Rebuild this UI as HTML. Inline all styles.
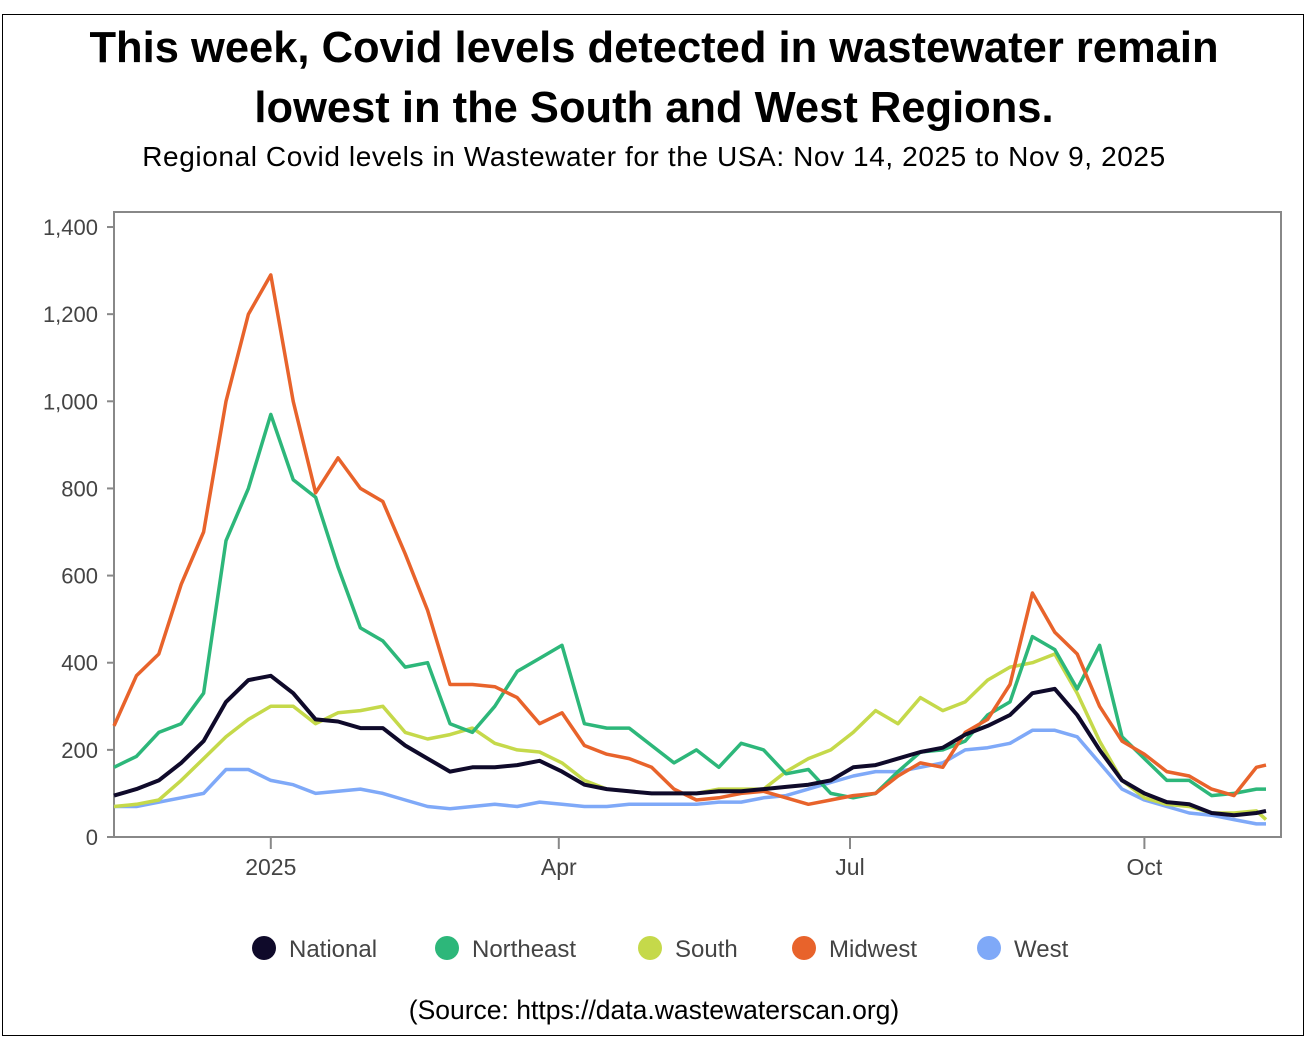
<!DOCTYPE html>
<html><head><meta charset="utf-8"><style>
body{margin:0;background:#fff;}
#wrap{position:relative;width:1308px;height:1047px;font-family:"Liberation Sans",sans-serif;}
#frame{position:absolute;left:2px;top:14px;width:1302px;height:1022px;border:1.5px solid #000;box-sizing:border-box;}
.t{position:absolute;left:0;width:1308px;text-align:center;color:#000;}
</style></head><body>
<div id="wrap">
<div id="frame"></div>
<div class="t" style="top:18px;font-size:43.5px;font-weight:bold;line-height:60px;">This week, Covid levels detected in wastewater remain<br>lowest in the South and West Regions.</div>
<div class="t" style="top:141px;font-size:28px;letter-spacing:0.6px;">Regional Covid levels in Wastewater for the USA: Nov 14, 2025 to Nov 9, 2025</div>
<svg id="chart" width="1308" height="1047" style="position:absolute;left:0;top:0"></svg>
<div class="t" style="top:995px;font-size:26.5px;">(Source: https://data.wastewaterscan.org)</div>
</div>
<script>
const days=[];for(let k=0;k<=51;k++)days.push(k*7);days.push(360);
const national=[95,110,130,170,220,310,360,370,330,270,265,250,250,210,180,150,160,160,165,175,150,120,110,105,100,100,100,105,105,110,115,120,130,160,165,180,195,205,235,255,280,330,340,280,200,130,100,80,75,55,50,55,60];
const northeast=[160,185,240,260,330,680,800,970,820,780,620,480,450,390,400,260,240,300,380,410,440,260,250,250,210,170,200,160,215,200,145,155,100,90,100,150,195,200,220,280,310,460,430,340,440,230,180,130,130,95,100,110,110];
const south=[70,75,85,130,180,230,270,300,300,260,285,290,300,240,225,235,250,215,200,195,170,130,110,105,100,100,100,110,110,110,150,180,200,240,290,260,320,290,310,360,390,400,420,330,220,130,90,75,70,55,55,60,40];
const midwest=[255,370,420,580,700,1000,1200,1290,1000,790,870,800,770,650,520,350,350,345,320,260,285,210,190,180,160,110,85,90,100,105,90,75,85,95,100,140,170,160,240,270,350,560,470,420,300,220,190,150,140,110,95,160,165];
const west=[70,70,80,90,100,155,155,130,120,100,105,110,100,85,70,65,70,75,70,80,75,70,70,75,75,75,75,80,80,90,95,110,125,140,150,150,160,170,200,205,215,245,245,230,170,110,85,70,55,50,40,30,30];
const yTicks=[0,200,400,600,800,1000,1200,1400];
const yTickLabels=["0","200","400","600","800","1,000","1,200","1,400"];
const xTickDays=[49,139,230,322];
const xTickLabels=["2025","Apr","Jul","Oct"];
const seriesNames=["National","Northeast","South","Midwest","West"];
const seriesColors=["#0f0a2a","#2db77a","#c5d94a","#e8632b","#7fa9f8"];
const seriesData=[national,northeast,south,midwest,west];
const NS="http://www.w3.org/2000/svg";
const svg=document.getElementById('chart');
const L=114,R=1281,T=212,B=837;
const xs=d=>L+d*3.2;
const ys=v=>B-v*0.4357;
function mk(tag,at){const e=document.createElementNS(NS,tag);for(const k in at)e.setAttribute(k,at[k]);svg.appendChild(e);return e;}
const box=mk('rect',{x:L,y:T,width:R-L,height:B-T,fill:'none',stroke:'#888','stroke-width':2});


yTicks.forEach((v,i)=>{
 const tk=mk('line',{x1:L-7,x2:L,y1:ys(v),y2:ys(v),stroke:'#888','stroke-width':2});
 
 
 const t=mk('text',{x:L-16,y:ys(v)+8,'text-anchor':'end','font-size':22,fill:'#444','font-family':'Liberation Sans, sans-serif'});
 t.textContent=yTickLabels[i];
 
 
});
xTickDays.forEach((d,i)=>{
 const tk=mk('line',{x1:xs(d),x2:xs(d),y1:B,y2:B+12,stroke:'#888','stroke-width':2});
 
 
 const t=mk('text',{x:xs(d),y:B+38,'text-anchor':'middle','font-size':23,fill:'#444','font-family':'Liberation Sans, sans-serif'});
 t.textContent=xTickLabels[i];
 
 
});
[4,2,1,3,0].forEach(si=>{
 const arr=seriesData[si];
 const pts=arr.map((v,i)=>xs(days[i]).toFixed(1)+','+ys(v).toFixed(1)).join(' ');
 const p=mk('polyline',{points:pts,fill:'none',stroke:seriesColors[si],'stroke-width':si==0?4:3.5,'stroke-linejoin':'round'});
 
 
});
const lx=[264,447,650,804,989];
seriesNames.forEach((n,i)=>{
 const c=mk('circle',{cx:lx[i],cy:948,r:12,fill:seriesColors[i]});
 
 
 const t=mk('text',{x:lx[i]+25,y:957,'font-size':24,fill:'#444','font-family':'Liberation Sans, sans-serif'});
 t.textContent=n;
 
 
});
</script>
</body></html>
